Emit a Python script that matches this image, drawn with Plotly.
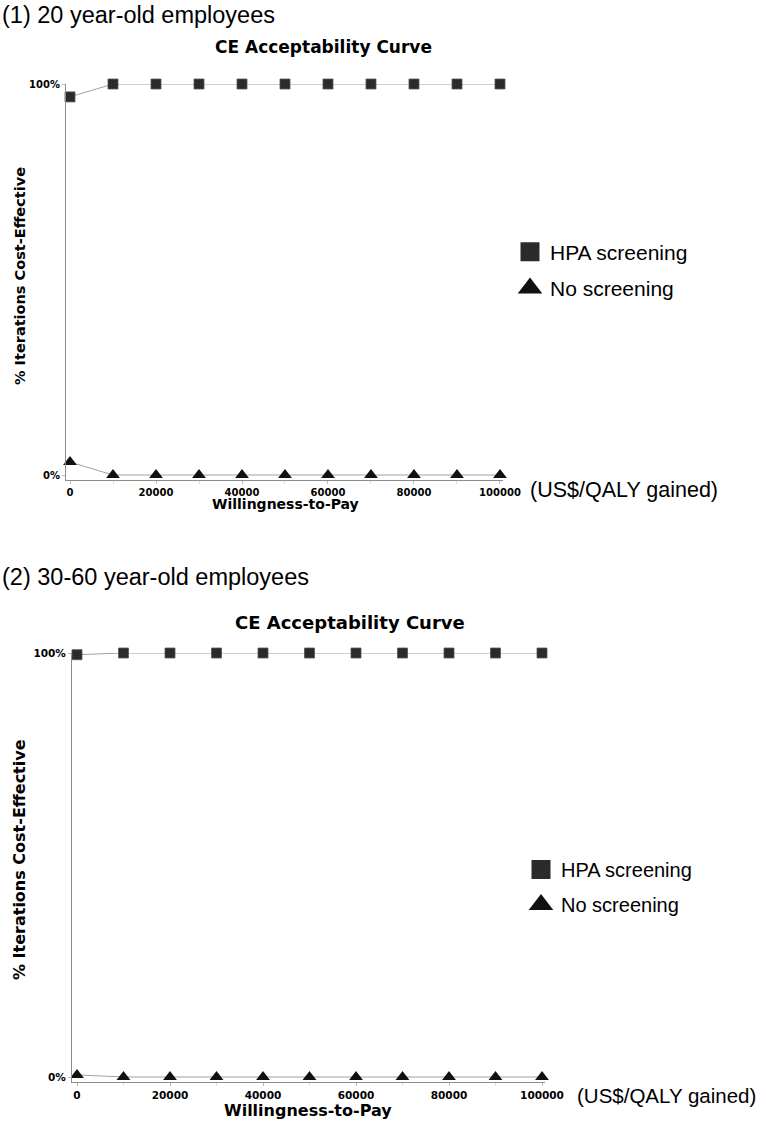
import plotly.graph_objects as go

# ---------------- data ----------------
wtp = [0, 10000, 20000, 30000, 40000, 50000, 60000, 70000, 80000, 90000, 100000]
x_tickvals = [0, 20000, 40000, 60000, 80000, 100000]
x_ticktext = ["0", "20000", "40000", "60000", "80000", "100000"]
y_tickvals = [0, 100]
y_ticktext = ["0%", "100%"]

# (1) 20 year-old employees
hpa_20 = [96.7, 100, 100, 100, 100, 100, 100, 100, 100, 100, 100]
no_20 = [3.3, 0, 0, 0, 0, 0, 0, 0, 0, 0, 0]

# (2) 30-60 year-old employees
hpa_3060 = [99.6, 100, 100, 100, 100, 100, 100, 100, 100, 100, 100]
no_3060 = [0.5, 0, 0, 0, 0, 0, 0, 0, 0, 0, 0]

series_names = ["HPA screening", "No screening"]
panel_titles = ["(1) 20 year-old employees", "(2) 30-60 year-old employees"]
chart_title = "CE Acceptability Curve"
x_title = "Willingness-to-Pay"
y_title = "% Iterations Cost-Effective"
unit_label = "(US$/QALY gained)"

# ---------------- styling ----------------
W, H = 766, 1126
MARK = "#2b2b2b"
LINE = "#a0a0a0"
AXC = "#8c8c8c"
BOLD = "DejaVu Sans"
SANS = "Liberation Sans, Arial"


def px(x):
    return x / W


def py(y):
    return 1 - y / H


fig = go.Figure()

panels = [
    dict(hpa=hpa_20, no=no_20, xa="x", ya="y", legend="legend", msize=11),
    dict(hpa=hpa_3060, no=no_3060, xa="x2", ya="y2", legend="legend2", msize=11),
]

for p in panels:
    fig.add_trace(go.Scatter(
        x=wtp, y=p["hpa"], mode="lines+markers", xaxis=p["xa"], yaxis=p["ya"],
        line=dict(color=LINE, width=1),
        marker=dict(symbol="square", size=p["msize"] - 1, color=MARK,
                    line=dict(color="#555", width=0.8)),
        showlegend=False, cliponaxis=False, hoverinfo="skip"))
    fig.add_trace(go.Scatter(
        x=wtp, y=p["no"], mode="lines+markers", xaxis=p["xa"], yaxis=p["ya"],
        line=dict(color=LINE, width=1),
        marker=dict(symbol="triangle-up", size=p["msize"] + 1, color="#111",
                    line=dict(width=0)),
        showlegend=False, cliponaxis=False, hoverinfo="skip"))
    # legend-only entries (markers only)
    fig.add_trace(go.Scatter(
        x=[None], y=[None], mode="markers", xaxis=p["xa"], yaxis=p["ya"],
        name=series_names[0], legend=p["legend"], legendgroup="a" + p["legend"],
        marker=dict(symbol="square", size=16, color=MARK,
                    line=dict(color=MARK, width=3))))
    fig.add_trace(go.Scatter(
        x=[None], y=[None], mode="markers", xaxis=p["xa"], yaxis=p["ya"],
        name=series_names[1], legend=p["legend"], legendgroup="b" + p["legend"],
        marker=dict(symbol="triangle-up", size=16, color="#111",
                    line=dict(color="#111", width=3))))

tickfont1 = dict(family=BOLD, size=10, color="black", weight="bold")
tickfont2 = dict(family=BOLD, size=10.5, color="black", weight="bold")

common_x = dict(showline=True, linecolor=AXC, linewidth=1, showgrid=False,
                zeroline=False, automargin=False,
                tickmode="array", tickvals=x_tickvals, ticktext=x_ticktext,
                ticks="outside", ticklen=3, tickcolor="#bbbbbb",
                minor=dict(tickvals=wtp, ticks="outside", ticklen=3, tickcolor="#dddddd"))
common_y = dict(showline=True, linecolor=AXC, linewidth=1, showgrid=False,
                zeroline=False, automargin=False,
                tickmode="array", tickvals=y_tickvals, ticktext=y_ticktext,
                ticks="outside", ticklen=3, tickcolor="#bbbbbb")

fig.update_layout(
    template="none",
    width=W, height=H, autosize=False,
    margin=dict(l=0, r=0, t=0, b=0, pad=0),
    paper_bgcolor="white", plot_bgcolor="white",
    font=dict(family=SANS, color="black"),
    xaxis=dict(domain=[px(66), px(503)], range=[-930, 100700], anchor="y",
               tickfont=tickfont1, **common_x),
    yaxis=dict(domain=[py(480), py(84)], range=[-1.28, 100], anchor="x",
               tickfont=tickfont1, **common_y),
    xaxis2=dict(domain=[px(72), px(545)], range=[-1075, 100645], anchor="y2",
                tickfont=tickfont2, **common_x),
    yaxis2=dict(domain=[py(1082), py(653)], range=[-1.18, 100], anchor="x2",
                tickfont=tickfont2, **common_y),
    legend=dict(x=px(510), y=py(270), xanchor="left", yanchor="middle",
                font=dict(family=SANS, size=21, color="black"),
                tracegroupgap=6, bgcolor="rgba(0,0,0,0)"),
    legend2=dict(x=px(521), y=py(887), xanchor="left", yanchor="middle",
                 font=dict(family=SANS, size=20, color="black"),
                 tracegroupgap=6, bgcolor="rgba(0,0,0,0)"),
    showlegend=True,
)

annots = [
    # panel 1
    dict(text=panel_titles[0], x=px(0), y=py(15), xanchor="left", yanchor="middle",
         font=dict(family=SANS, size=23.5, color="black")),
    dict(text=chart_title, x=px(323), y=py(47), xanchor="center", yanchor="middle",
         font=dict(family=BOLD, size=17, color="black", weight="bold")),
    dict(text=y_title, x=px(20), y=py(276), xanchor="center", yanchor="middle", textangle=-90,
         font=dict(family=BOLD, size=14.5, color="black", weight="bold")),
    dict(text=x_title, x=px(285), y=py(504), xanchor="center", yanchor="middle",
         font=dict(family=BOLD, size=14, color="black", weight="bold")),
    dict(text=unit_label, x=px(528), y=py(490), xanchor="left", yanchor="middle",
         font=dict(family=SANS, size=21.5, color="black")),
    # panel 2
    dict(text=panel_titles[1], x=px(0), y=py(577), xanchor="left", yanchor="middle",
         font=dict(family=SANS, size=23.5, color="black")),
    dict(text=chart_title, x=px(350), y=py(622), xanchor="center", yanchor="middle",
         font=dict(family=BOLD, size=18, color="black", weight="bold")),
    dict(text=y_title, x=px(20), y=py(860), xanchor="center", yanchor="middle", textangle=-90,
         font=dict(family=BOLD, size=16, color="black", weight="bold")),
    dict(text=x_title, x=px(308), y=py(1110), xanchor="center", yanchor="middle",
         font=dict(family=BOLD, size=16, color="black", weight="bold")),
    dict(text=unit_label, x=px(575), y=py(1095), xanchor="left", yanchor="middle",
         font=dict(family=SANS, size=20.5, color="black")),
]
for a in annots:
    fig.add_annotation(xref="paper", yref="paper", showarrow=False, **a)

fig.write_html(
    "out.html",
    config={"displayModeBar": False},
    post_script=(
        "document.documentElement.style.margin='0';"
        "document.documentElement.style.overflow='hidden';"
        "document.body.style.margin='0';document.body.style.padding='0';"
        "document.body.style.overflow='hidden';"
    ),
)
